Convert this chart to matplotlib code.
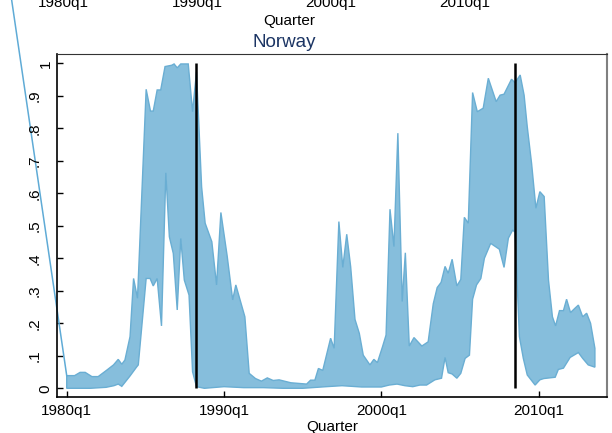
import numpy as np
import matplotlib
matplotlib.use("Agg")
import matplotlib.pyplot as plt
import matplotlib.transforms as mtransforms

plt.rcParams['font.family'] = ['Liberation Sans', 'DejaVu Sans']

# quarters counted from 1980q1 (= 0)
upper_q = [0, 2, 3.4, 4.7, 6.4, 8, 10.2, 11.9, 13.1, 14, 14.8, 16.1, 17, 18,
           20.2, 21.3, 22, 23, 23.9, 25, 26.7, 27.3, 28.1, 29, 30.9, 32, 33,
           34.3, 35.2, 36.9, 38.1, 39.2, 40.8, 42.2, 43, 45.3, 46.4, 48, 49.5,
           51, 52.5, 54, 56, 57, 61, 62, 63.1, 64, 65.1, 67.1, 68, 69.2, 70.2,
           71.2, 72.2, 73.3, 74.4, 75.4, 77.1, 78.1, 79, 80.3, 81.2, 82.2,
           83.2, 84.2, 85.3, 86.1, 87.1, 88.3, 90.3, 91.9, 93.2, 94.2, 95.2,
           96.2, 97, 98, 99.2, 100.2, 101.1, 102.1, 103.2, 104.4, 105.9,
           107.2, 109.2, 110.2, 111.2, 113.1, 114, 115.3, 116.3, 117.1, 118.2,
           119.3, 120.3, 121.4, 122.5, 123.5, 124.3, 125.3, 126.3, 127.1,
           128.1, 129.2, 130.1, 131.2, 132.2, 133.2, 134.3]
upper_v = [0.039, 0.039, 0.049, 0.049, 0.036, 0.036, 0.056, 0.072, 0.089,
           0.074, 0.087, 0.159, 0.338, 0.277, 0.92, 0.853, 0.853, 0.918,
           0.918, 0.99, 0.994, 0.998, 0.986, 0.998, 0.998, 0.851, 0.974,
           0.62, 0.508, 0.451, 0.318, 0.541, 0.407, 0.272, 0.318, 0.22,
           0.046, 0.03, 0.022, 0.032, 0.024, 0.026, 0.02, 0.017, 0.013,
           0.025, 0.025, 0.061, 0.055, 0.154, 0.123, 0.513, 0.372, 0.474,
           0.374, 0.212, 0.169, 0.102, 0.072, 0.089, 0.079, 0.128, 0.164,
           0.551, 0.436, 0.785, 0.267, 0.417, 0.13, 0.156, 0.13, 0.143, 0.26,
           0.31, 0.326, 0.375, 0.354, 0.397, 0.315, 0.335, 0.526, 0.508,
           0.91, 0.851, 0.862, 0.954, 0.882, 0.902, 0.905, 0.951, 0.94,
           0.964, 0.902, 0.805, 0.692, 0.554, 0.605, 0.59, 0.333, 0.22,
           0.192, 0.239, 0.239, 0.274, 0.233, 0.246, 0.256, 0.22, 0.231,
           0.2, 0.123]

lower_q = [0, 6, 10, 12, 13.1, 14, 16.1, 17.8, 18.2, 20.2, 21.2, 22, 23,
           24.1, 25.2, 26.1, 27.1, 28.1, 29, 29.9, 31.1, 32, 33, 35, 40, 45,
           50, 55, 60, 66, 70, 75, 80, 82, 84, 86, 88, 89.8, 91.5, 93.6, 95.3,
           96.2, 97, 98, 99.2, 100.2, 101.3, 102.4, 103.2, 104.2, 105.3,
           106.2, 107.8, 110, 111.2, 112.3, 113.4, 114, 115.1, 116.1, 117.1,
           119.1, 120.3, 121.3, 124.2, 125, 126.3, 128, 130.1, 131.2, 132.6,
           134.3]
lower_v = [0.0, 0.0, 0.003, 0.008, 0.013, 0.006, 0.038, 0.066, 0.072, 0.338,
           0.338, 0.315, 0.338, 0.192, 0.663, 0.466, 0.415, 0.241, 0.461,
           0.333, 0.287, 0.051, 0.005, 0.0, 0.005, 0.002, 0.002, 0.0, 0.0,
           0.005, 0.008, 0.004, 0.004, 0.01, 0.013, 0.008, 0.005, 0.01, 0.01,
           0.026, 0.031, 0.095, 0.048, 0.044, 0.031, 0.046, 0.092, 0.102,
           0.274, 0.318, 0.338, 0.4, 0.446, 0.428, 0.372, 0.462, 0.487, 0.48,
           0.159, 0.092, 0.041, 0.01, 0.026, 0.03, 0.034, 0.058, 0.062, 0.095,
           0.11, 0.092, 0.072, 0.065]

# stray line running off the top-left of the panel
stray_q = [-20, 0]
stray_v = [1.69, 0.039]

event_q = [33, 114]          # 1988q2, 2008q3

xtick_q = [0, 40, 80, 120]
xtick_labels = ['1980q1', '1990q1', '2000q1', '2010q1']
ytick_v = [0, .1, .2, .3, .4, .5, .6, .7, .8, .9, 1]
ytick_labels = ['0', '.1', '.2', '.3', '.4', '.5', '.6', '.7', '.8', '.9', '1']

fill_col = '#86bedc'
edge_col = '#6aaed3'

W, H = 612, 433
fig = plt.figure(figsize=(W / 100, H / 100), dpi=100)
ax = fig.add_axes([57 / W, 1 - 397.3 / H, 549.7 / W, 343 / H])

poly_q = np.concatenate([upper_q, lower_q[::-1]])
poly_v = np.concatenate([upper_v, lower_v[::-1]])
ax.fill(poly_q, poly_v, facecolor=fill_col, edgecolor=edge_col, lw=1.0)

ax.plot(stray_q, stray_v, color='#5fabd6', lw=1.1, clip_on=False)
ax.vlines(event_q, 0, 1, color='black', lw=1.8)

ax.set_xlim(-2.47, 137.3)
ax.set_ylim(-0.0277, 1.0277)

ax.set_xticks(xtick_q)
ax.set_xticklabels(xtick_labels, fontsize=11)
ax.set_yticks(ytick_v)
ax.set_yticklabels([])
ax.tick_params(axis='both', direction='in', length=4, width=1, color='black')
ax.tick_params(axis='x', pad=5)
ax.set_xlabel('Quarter', fontsize=11, labelpad=1.5)

# rotated y labels, Stata style
tr = mtransforms.blended_transform_factory(fig.transFigure, ax.transData)
for v, lab in zip(ytick_v, ytick_labels):
    xpx = 38.5 if lab.startswith('.') else 49.5
    ax.text(xpx / W, v, lab, transform=tr, rotation=90, rotation_mode='anchor',
            ha='center', va='baseline', fontsize=11)

for side in ['left', 'bottom']:
    ax.spines[side].set_color('black')
    ax.spines[side].set_linewidth(1.2)
ax.spines['top'].set_color('#333333')
ax.spines['right'].set_color('#808080')
ax.spines['right'].set_linewidth(1.5)

ax.set_title('Norway', fontsize=13.5, color='#1c3564',
             x=(284.2 - 57) / 549.7, pad=5.5)

# bottom edge of the panel above (cropped)
ax_top = fig.add_axes([55 / W, 1.0, 467.9 / W, 0.05])
ax_top.set_xlim(-2.47, 137.3)
ax_top.set_xticks(xtick_q)
ax_top.set_xticklabels(xtick_labels, fontsize=11)
ax_top.tick_params(axis='x', length=0, pad=-3)
ax_top.set_yticks([])
ax_top.set_xlabel('Quarter', fontsize=11, labelpad=3)
for s in ax_top.spines.values():
    s.set_visible(False)
ax_top.patch.set_visible(False)

fig.savefig('out.png', dpi=100)
